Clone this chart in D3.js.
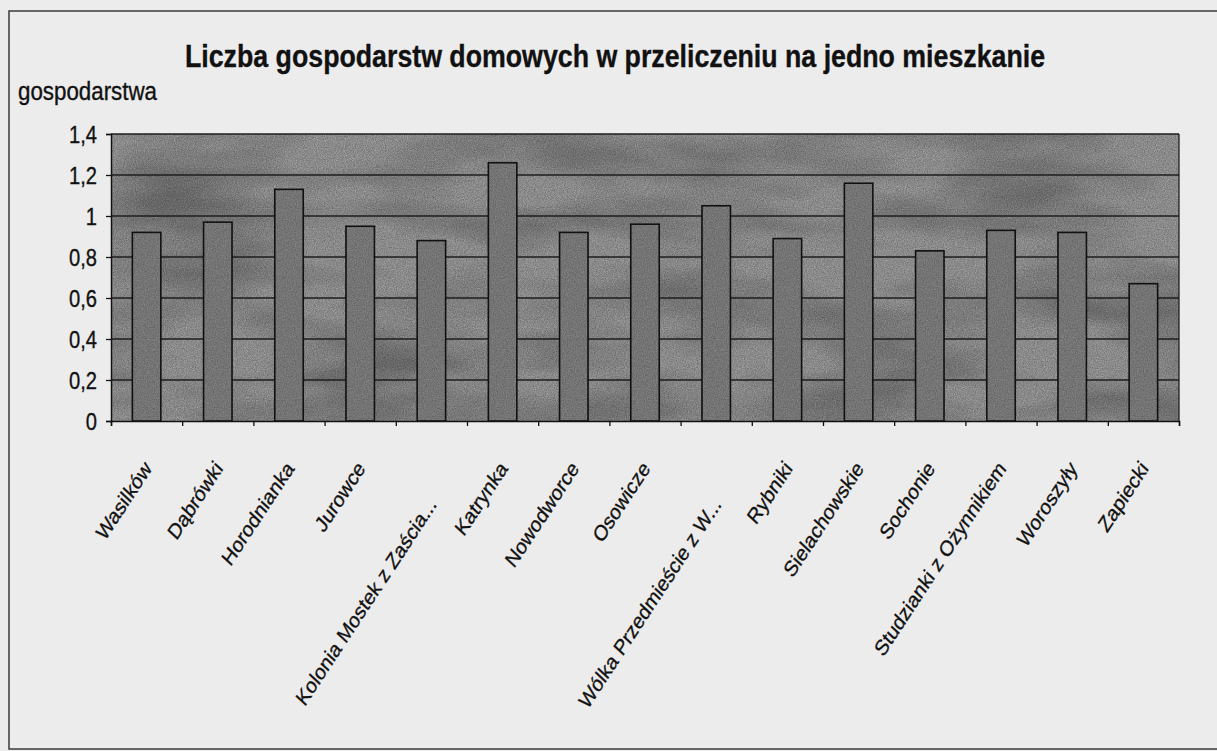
<!DOCTYPE html>
<html>
<head>
<meta charset="utf-8">
<script src="https://cdn.jsdelivr.net/npm/d3@7"></script>
<style>
  html, body { margin: 0; padding: 0; background: #ebebeb; }
  svg { display: block; font-family: "Liberation Sans", Arial, sans-serif; }
  svg text { stroke: #111; stroke-width: 0.35px; }
</style>
</head>
<body>
<div id="chart"></div>
<script>
// values
const categories = [
    'Wasilków', 'Dąbrówki', 'Horodnianka', 'Jurowce', 'Kolonia Mostek z Zaścia...',
    'Katrynka', 'Nowodworce', 'Osowicze', 'Wólka Przedmieście z W...', 'Rybniki',
    'Sielachowskie', 'Sochonie', 'Studzianki z Ożynnikiem', 'Woroszyły', 'Zapiecki'
];
const values = [0.92, 0.97, 1.13, 0.95, 0.88, 1.26, 0.92, 0.96, 1.05, 0.89, 1.16, 0.83, 0.93, 0.92, 0.67];
const yTicks = [0, 0.2, 0.4, 0.6, 0.8, 1, 1.2, 1.4];
const yTickLabels = ['0', '0,2', '0,4', '0,6', '0,8', '1', '1,2', '1,4'];
const title = 'Liczba gospodarstw domowych w przeliczeniu na jedno mieszkanie';
const yTitle = 'gospodarstwa';

const W = 1217, H = 751;
const margin = { top: 134, right: 38, bottom: 330, left: 111 };
const innerW = W - margin.left - margin.right;
const innerH = H - margin.top - margin.bottom;
const squeeze = 0.84; // scanned text looks horizontally condensed

const svg = d3.select('#chart').append('svg')
    .attr('width', W)
    .attr('height', H);

const defs = svg.append('defs');

// fine halftone grain
const grain = defs.append('filter').attr('id', 'grain')
    .attr('x', 0).attr('y', 0).attr('width', 1).attr('height', 1);
grain.append('feTurbulence')
    .attr('type', 'fractalNoise')
    .attr('baseFrequency', 0.9)
    .attr('numOctaves', 2)
    .attr('seed', 4);
grain.append('feColorMatrix')
    .attr('type', 'matrix')
    .attr('values', '0 0 0 0 0  0 0 0 0 0  0 0 0 0 0  0 0 0 -1.2 1.1');

// cloudy blotches of the scan
const cloud = defs.append('filter').attr('id', 'cloud')
    .attr('x', 0).attr('y', 0).attr('width', 1).attr('height', 1);
cloud.append('feTurbulence')
    .attr('type', 'fractalNoise')
    .attr('baseFrequency', '0.006 0.02')
    .attr('numOctaves', 3)
    .attr('seed', 11);
cloud.append('feColorMatrix')
    .attr('type', 'matrix')
    .attr('values', '0 0 0 0 0  0 0 0 0 0  0 0 0 0 0  0 0 0 -2.2 1.35');

// paper
svg.append('rect')
    .attr('width', W).attr('height', H)
    .attr('fill', '#ececec');

// outer chart border
svg.append('rect')
    .attr('x', 9).attr('y', 11)
    .attr('width', W + 10).attr('height', H - 13)
    .attr('fill', 'none')
    .attr('stroke', '#3a3a3a')
    .attr('stroke-width', 1.5);

const g = svg.append('g').attr('transform', `translate(${margin.left},${margin.top})`);

const x = d3.scaleBand()
    .domain(categories)
    .range([0, innerW])
    .paddingInner(0.6)
    .paddingOuter(0.3);

const xEdge = d3.scaleLinear()
    .domain([0, categories.length])
    .range([0, innerW]);

const y = d3.scaleLinear()
    .domain([0, 1.4])
    .range([innerH, 0]);

// plot area
g.append('rect')
    .attr('width', innerW).attr('height', innerH)
    .attr('fill', '#adadad');
g.append('rect')
    .attr('width', innerW).attr('height', innerH)
    .attr('filter', 'url(#cloud)')
    .attr('opacity', 0.25);
g.append('rect')
    .attr('width', innerW).attr('height', innerH)
    .attr('filter', 'url(#grain)')
    .attr('opacity', 0.4);

// gridlines
g.append('g')
    .selectAll('line')
    .data(yTicks.filter(d => d > 0))
    .enter()
    .append('line')
    .attr('x1', 0)
    .attr('x2', innerW)
    .attr('y1', d => y(d))
    .attr('y2', d => y(d))
    .attr('stroke', '#1e1e1e')
    .attr('stroke-width', 1.3);

// right border of plot area
g.append('line')
    .attr('x1', innerW).attr('x2', innerW)
    .attr('y1', 0).attr('y2', innerH)
    .attr('stroke', '#1e1e1e')
    .attr('stroke-width', 1.3);

// bars
const bars = g.append('g');
bars.selectAll('rect.bar')
    .data(values)
    .enter()
    .append('rect')
    .attr('class', 'bar')
    .attr('x', (d, i) => x(categories[i]))
    .attr('y', d => y(d))
    .attr('width', x.bandwidth())
    .attr('height', d => innerH - y(d))
    .attr('fill', '#8d8d8d')
    .attr('stroke', '#111')
    .attr('stroke-width', 1.6);
bars.selectAll('rect.grain')
    .data(values)
    .enter()
    .append('rect')
    .attr('class', 'grain')
    .attr('x', (d, i) => x(categories[i]) + 1)
    .attr('y', d => y(d) + 1)
    .attr('width', x.bandwidth() - 2)
    .attr('height', d => innerH - y(d) - 2)
    .attr('filter', 'url(#grain)')
    .attr('opacity', 0.35);

// y axis
const yAxis = g.append('g')
    .call(d3.axisLeft(y)
        .tickValues(yTicks)
        .tickFormat((d, i) => yTickLabels[i])
        .tickSize(5)
        .tickPadding(0));
yAxis.select('.domain').attr('stroke', '#111').attr('stroke-width', 1.5);
yAxis.selectAll('.tick line').attr('stroke', '#111').attr('stroke-width', 1.3);
yAxis.selectAll('.tick text')
    .attr('x', null)
    .attr('dy', null)
    .attr('fill', '#111')
    .style('font-size', '24px')
    .attr('text-anchor', 'end')
    .attr('transform', 'translate(-14,8) scale(' + squeeze + ',1)');

// x axis (ticks between categories)
const xAxis = g.append('g')
    .attr('transform', `translate(0,${innerH})`)
    .call(d3.axisBottom(xEdge)
        .tickValues(d3.range(categories.length + 1))
        .tickFormat('')
        .tickSize(5));
xAxis.select('.domain').attr('stroke', '#111').attr('stroke-width', 1.5);
xAxis.selectAll('.tick line').attr('stroke', '#111').attr('stroke-width', 1.3);

// rotated category labels
g.append('g')
    .selectAll('text')
    .data(categories)
    .enter()
    .append('text')
    .attr('text-anchor', 'end')
    .attr('transform', d => {
        const cx = x(d) + x.bandwidth() / 2 + 6;
        const cy = innerH + 48 + (d.endsWith('...') ? 36 : 0);
        return `translate(${cx},${cy}) scale(${squeeze},1) rotate(-52)`;
    })
    .style('font-size', '22px')
    .attr('fill', '#111')
    .text(d => d);

// title
svg.append('text')
    .attr('x', 185)
    .attr('y', 67)
    .attr('textLength', 860)
    .attr('lengthAdjust', 'spacingAndGlyphs')
    .style('font-size', '31px')
    .style('font-weight', '700')
    .attr('fill', '#111')
    .text(title);

// y axis title
svg.append('text')
    .attr('x', 18)
    .attr('y', 100)
    .attr('textLength', 139)
    .attr('lengthAdjust', 'spacingAndGlyphs')
    .style('font-size', '25px')
    .attr('fill', '#111')
    .text(yTitle);
</script>
</body>
</html>
